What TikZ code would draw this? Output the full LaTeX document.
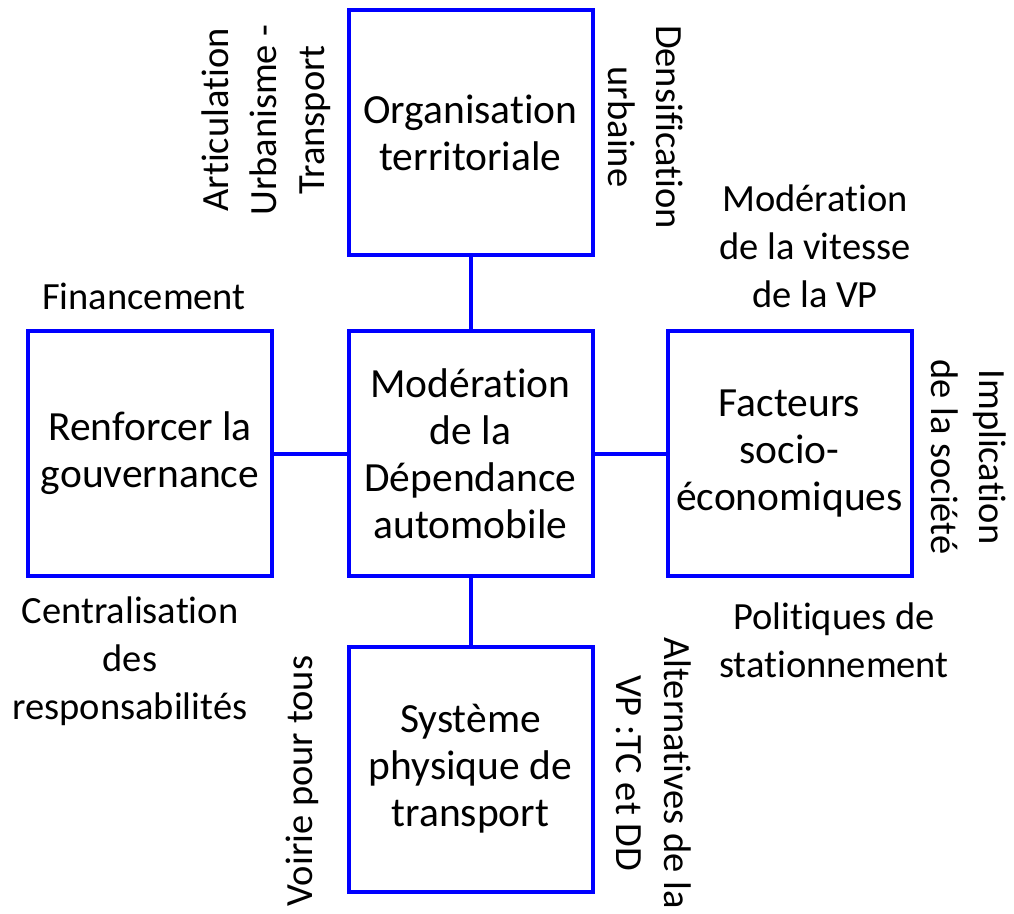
\documentclass[tikz,border=0pt]{standalone}
\usepackage{fontspec}
\setmainfont{Carlito}[Ligatures=NoCommon]
\begin{document}
\begin{tikzpicture}[x=1pt,y=-1pt,
  box/.style={draw=blue, line width=4pt, minimum width=244pt, minimum height=245pt, inner sep=0pt, align=center, font=\fontsize{41.5}{47}\selectfont},
  lbl/.style={align=center, inner sep=0pt, font=\fontsize{38.5}{48}\selectfont},
  link/.style={draw=blue, line width=4pt}]
\useasboundingbox (0,0) rectangle (1014,913);
\node[box] (top) at (470.5,132.5) {Organisation\\territoriale};
\node[box] (ctr) at (470.5,453.5) {Modération\\de la\\Dépendance\\automobile};
\node[box] (lft) at (150,453.5) {Renforcer la\\gouvernance};
\node[box] (rgt) at (789.5,453.5) {Facteurs\\socio-\\économiques};
\node[box] (bot) at (470.5,769) {Système\\physique de\\transport};
\draw[link] (top) -- (ctr);
\draw[link] (lft) -- (ctr);
\draw[link] (rgt) -- (ctr);
\draw[link] (bot) -- (ctr);
\node[lbl, rotate=90] (art) at (266,120) {Articulation\\Urbanisme -\\Transport};
\node[lbl, rotate=-90] (dens) at (646,127) {Densification\\urbaine};
\node[lbl, rotate=-90] (impl) at (969,457) {Implication\\de la société};
\node[lbl, rotate=90] (voi) at (302,781) {Voirie pour tous};
\node[lbl, rotate=-90] (alt) at (654,773) {Alternatives de la\\VP :TC et DD};
\node[lbl] (fin) at (144,296) {Financement};
\node[lbl] (cent) at (130,661) {Centralisation\\des\\responsabilités};
\node[lbl] (modv) at (815,246) {Modération\\de la vitesse\\de la VP};
\node[lbl] (pol) at (834,640) {Politiques de\\stationnement};
\end{tikzpicture}
\end{document}
